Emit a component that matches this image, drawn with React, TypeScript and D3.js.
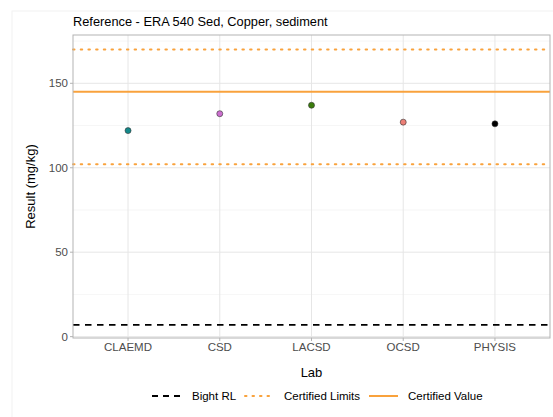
import * as d3 from 'd3'

const W = 553
const H = 417

// lab results (mg/kg)
const labs = ['CLAEMD', 'CSD', 'LACSD', 'OCSD', 'PHYSIS']
const results = [122, 132, 137, 127, 126]
const labColors = ['#13898a', '#cc6fcf', '#3b7d0c', '#ec7f76', '#000000']

// reference lines
const certifiedValue = 145
const certifiedLimits = [102, 170]
const bightRL = 7

const yTicks = [0, 50, 100, 150]
const yMinor = [25, 75, 125, 175]

const FONT = '"Liberation Sans", Arial, sans-serif'
const ORANGE = '#f9a23c'

export default function App() {
  const margin = { top: 35, right: 3, bottom: 79, left: 73 }
  const x0 = margin.left
  const x1 = W - margin.right
  const y0 = H - margin.bottom
  const y1 = margin.top

  const x = d3.scalePoint<string>().domain(labs).range([x0, x1]).padding(0.6)
  const y = d3.scaleLinear().domain([-0.8, 178.6]).range([y0, y1])

  const legend = [
    { label: 'Bight RL', stroke: '#000', dash: '6,5', width: 1.8, kx: 152, tx: 192 },
    { label: 'Certified Limits', stroke: ORANGE, dash: '1.5,6', width: 2, kx: 245, tx: 284 },
    { label: 'Certified Value', stroke: ORANGE, dash: undefined, width: 2, kx: 369, tx: 408 },
  ]

  return (
    <svg width={W} height={H} style={{ position: 'fixed', left: 0, top: 0, fontFamily: FONT }}>
      <rect x={0} y={0} width={W} height={H} fill="#fff" />
      <rect x={12} y={11} width={W} height={H} fill="#fff" stroke="#f2f2f2" />

      <text x={x0} y={26} fontSize={12.8} fill="#000">Reference - ERA 540 Sed, Copper, sediment</text>

      {/* grid */}
      <g>
        {yMinor.map(v => (
          <line key={'m' + v} x1={x0} x2={x1} y1={y(v)} y2={y(v)} stroke="#ececec" strokeWidth={0.5} />
        ))}
        {yTicks.map(v => (
          <line key={'g' + v} x1={x0} x2={x1} y1={y(v)} y2={y(v)} stroke="#e6e6e6" strokeWidth={1} />
        ))}
        {labs.map(l => (
          <line key={'gx' + l} x1={x(l)} x2={x(l)} y1={y1} y2={y0} stroke="#e6e6e6" strokeWidth={1} />
        ))}
      </g>

      {/* reference lines */}
      <line x1={x0} x2={x1} y1={y(bightRL)} y2={y(bightRL)} stroke="#000" strokeWidth={1.8} strokeDasharray="6.5,5.5" />
      {certifiedLimits.map(v => (
        <line key={'cl' + v} x1={x0} x2={x1} y1={y(v)} y2={y(v)} stroke={ORANGE} strokeWidth={2}
          strokeDasharray="1.5,6.2" strokeLinecap="round" />
      ))}
      <line x1={x0} x2={x1} y1={y(certifiedValue)} y2={y(certifiedValue)} stroke={ORANGE} strokeWidth={2} />

      {/* points */}
      {labs.map((l, i) => (
        <circle key={l} cx={x(l)} cy={y(results[i])} r={3} fill={labColors[i]} stroke="#333" strokeWidth={0.6} />
      ))}

      {/* panel border */}
      <rect x={x0} y={y1} width={x1 - x0} height={y0 - y1} fill="none" stroke="#b3b3b3" strokeWidth={1} />

      {/* y axis */}
      {yTicks.map(v => (
        <g key={'yt' + v}>
          <line x1={x0 - 3} x2={x0} y1={y(v)} y2={y(v)} stroke="#b3b3b3" />
          <text x={x0 - 5} y={y(v)} dy="0.35em" textAnchor="end" fontSize={11.5} fill="#4d4d4d">{v}</text>
        </g>
      ))}
      <text transform={`translate(34.5,${(y0 + y1) / 2}) rotate(-90)`} textAnchor="middle" fontSize={13} fill="#000">
        Result (mg/kg)
      </text>

      {/* x axis */}
      {labs.map(l => (
        <g key={'xt' + l}>
          <line x1={x(l)} x2={x(l)} y1={y0} y2={y0 + 3} stroke="#b3b3b3" />
          <text x={x(l)} y={y0 + 13} textAnchor="middle" fontSize={11.5} fill="#4d4d4d">{l}</text>
        </g>
      ))}
      <text x={(x0 + x1) / 2} y={377} textAnchor="middle" fontSize={13} fill="#000">Lab</text>

      {/* legend */}
      {legend.map(d => (
        <g key={d.label}>
          <line x1={d.kx} x2={d.kx + 29} y1={396} y2={396} stroke={d.stroke} strokeWidth={d.width}
            strokeDasharray={d.dash} strokeLinecap={d.label === 'Certified Limits' ? 'round' : 'butt'} />
          <text x={d.tx} y={396} dy="0.35em" fontSize={11.5} fill="#000">{d.label}</text>
        </g>
      ))}
    </svg>
  )
}
